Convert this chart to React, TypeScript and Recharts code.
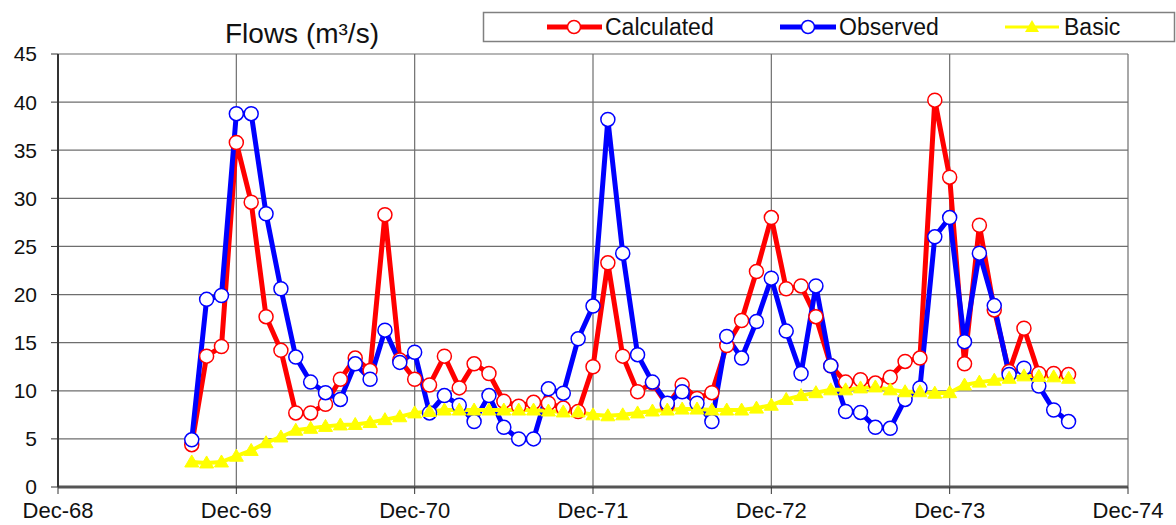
import { LineChart, Line, XAxis, YAxis, CartesianGrid } from 'recharts'

// months counted from Dec-68 (index 0); first sample is Sep-69
const FIRST_MONTH = 9

const calculated = [
  4.4, 13.6, 14.6, 35.8, 29.6, 17.7, 14.2, 7.7, 7.7, 8.6, 11.2, 13.4,
  12.1, 28.3, 13.2, 11.2, 10.6, 13.6, 10.3, 12.8, 11.8, 8.9, 8.4, 8.8,
  8.7, 8.2, 7.85, 12.5, 23.3, 13.6, 9.9, 10.8, 8.5, 10.6, 9.2, 9.8,
  14.7, 17.3, 22.4, 28.0, 20.6, 20.9, 17.7, 12.6, 10.9, 11.15, 10.8, 11.4,
  13.05, 13.4, 40.2, 32.2, 12.8, 27.2, 18.4, 12.0, 16.5, 11.8, 11.8, 11.7,
]

const observed = [
  4.9, 19.5, 19.9, 38.8, 38.8, 28.4, 20.6, 13.5, 10.9, 9.8, 9.1, 12.8,
  11.2, 16.3, 12.95, 14.0, 7.7, 9.5, 8.5, 6.8, 9.5, 6.2, 5.0, 5.0,
  10.2, 9.75, 15.4, 18.8, 38.2, 24.3, 13.75, 10.9, 8.7, 9.9, 8.7, 6.8,
  15.65, 13.4, 17.2, 21.7, 16.2, 11.8, 20.9, 12.6, 7.85, 7.75, 6.2, 6.1,
  9.1, 10.3, 26.0, 28.0, 15.1, 24.3, 18.85, 11.7, 12.35, 10.5, 8.0, 6.8,
]

const basic = [
  2.6, 2.5, 2.6, 3.2, 3.8, 4.6, 5.2, 5.9, 6.1, 6.3, 6.45, 6.5,
  6.7, 7.0, 7.3, 7.7, 7.85, 8.0, 8.0, 8.0, 8.0, 8.0, 8.0, 8.0,
  7.9, 7.8, 7.8, 7.5, 7.4, 7.5, 7.7, 7.9, 8.0, 8.1, 8.1, 8.0,
  8.0, 8.0, 8.2, 8.5, 9.1, 9.5, 9.8, 10.1, 10.1, 10.3, 10.4, 10.1,
  9.9, 9.9, 9.75, 9.8, 10.6, 10.9, 11.1, 11.3, 11.55, 11.5, 11.45, 11.3,
]

const xTickLabels = ['Dec-68', 'Dec-69', 'Dec-70', 'Dec-71', 'Dec-72', 'Dec-73', 'Dec-74']
const xTicks = xTickLabels.map((_, i) => i * 12)
const yTicks = [0, 5, 10, 15, 20, 25, 30, 35, 40, 45]

const data = calculated.map((v, i) => ({
  month: FIRST_MONTH + i,
  calculated: v,
  observed: observed[i],
  basic: basic[i],
}))

const FONT = '"Liberation Sans", Arial, sans-serif'
const RED = '#ff0000'
const BLUE = '#0000ff'
const YELLOW = '#ffff00'

const Triangle = (props: any) => {
  const { cx, cy, key } = props
  if (cx == null || cy == null) return null
  return (
    <polygon
      key={key}
      points={`${cx},${cy - 7} ${cx - 7},${cy + 5} ${cx + 7},${cy + 5}`}
      fill={YELLOW}
      stroke={YELLOW}
      strokeWidth={1}
    />
  )
}

function Header() {
  return (
    <svg
      width={1176}
      height={60}
      style={{ position: 'absolute', left: 0, top: 0, pointerEvents: 'none' }}
    >
      <text x={302} y={43} textAnchor="middle" fontFamily={FONT} fontSize={28} fill="#111">
        Flows (m³/s)
      </text>
      <rect x={483.5} y={12.5} width={691} height={29} fill="#fff" stroke="#808080" strokeWidth={1.5} />
      {/* Calculated */}
      <line x1={547} x2={602} y1={27} y2={27} stroke={RED} strokeWidth={5} />
      <circle cx={574} cy={27} r={6.5} fill="#fff" stroke={RED} strokeWidth={1.5} />
      <text x={605} y={35} fontFamily={FONT} fontSize={23} fill="#111">Calculated</text>
      {/* Observed */}
      <line x1={780} x2={836} y1={27} y2={27} stroke={BLUE} strokeWidth={5} />
      <circle cx={808} cy={27} r={6.5} fill="#fff" stroke={BLUE} strokeWidth={1.5} />
      <text x={839} y={35} fontFamily={FONT} fontSize={23} fill="#111">Observed</text>
      {/* Basic */}
      <line x1={1005} x2={1059} y1={27} y2={27} stroke={YELLOW} strokeWidth={3} />
      <polygon points="1032,20 1025,32 1039,32" fill={YELLOW} />
      <text x={1064} y={35} fontFamily={FONT} fontSize={23} fill="#111">Basic</text>
    </svg>
  )
}

export default function App() {
  return (
    <div style={{ position: 'absolute', left: 0, top: 0, width: 1176, height: 525, background: '#fff' }}>
      <LineChart
        width={1176}
        height={525}
        data={data}
        margin={{ top: 54, right: 48, bottom: 8, left: 0 }}
      >
        <CartesianGrid stroke="#6e6e6e" strokeWidth={1.2} />
        <XAxis
          dataKey="month"
          type="number"
          domain={[0, 72]}
          ticks={xTicks}
          tickFormatter={(v: number) => xTickLabels[v / 12]}
          interval={0}
          height={30}
          axisLine={{ stroke: '#555', strokeWidth: 3 }}
          tickLine={{ stroke: '#333' }}
          tickSize={7}
          tickMargin={8}
          tick={{ fill: '#111', fontSize: 22, fontFamily: FONT }}
        />
        <YAxis
          type="number"
          domain={[0, 45]}
          ticks={yTicks}
          interval={0}
          width={58}
          axisLine={{ stroke: '#333', strokeWidth: 2 }}
          tickLine={{ stroke: '#333' }}
          tickSize={7}
          tickMargin={14}
          tick={{ fill: '#111', fontSize: 21, fontFamily: FONT }}
        />
        <Line
          dataKey="calculated"
          stroke={RED}
          strokeWidth={5}
          dot={{ r: 7, fill: '#fff', stroke: RED, strokeWidth: 1.5 }}
          isAnimationActive={false}
        />
        <Line
          dataKey="observed"
          stroke={BLUE}
          strokeWidth={5}
          dot={{ r: 7, fill: '#fff', stroke: BLUE, strokeWidth: 1.5 }}
          isAnimationActive={false}
        />
        <Line
          dataKey="basic"
          stroke={YELLOW}
          strokeWidth={4}
          dot={Triangle}
          isAnimationActive={false}
        />
      </LineChart>
      <Header />
    </div>
  )
}
